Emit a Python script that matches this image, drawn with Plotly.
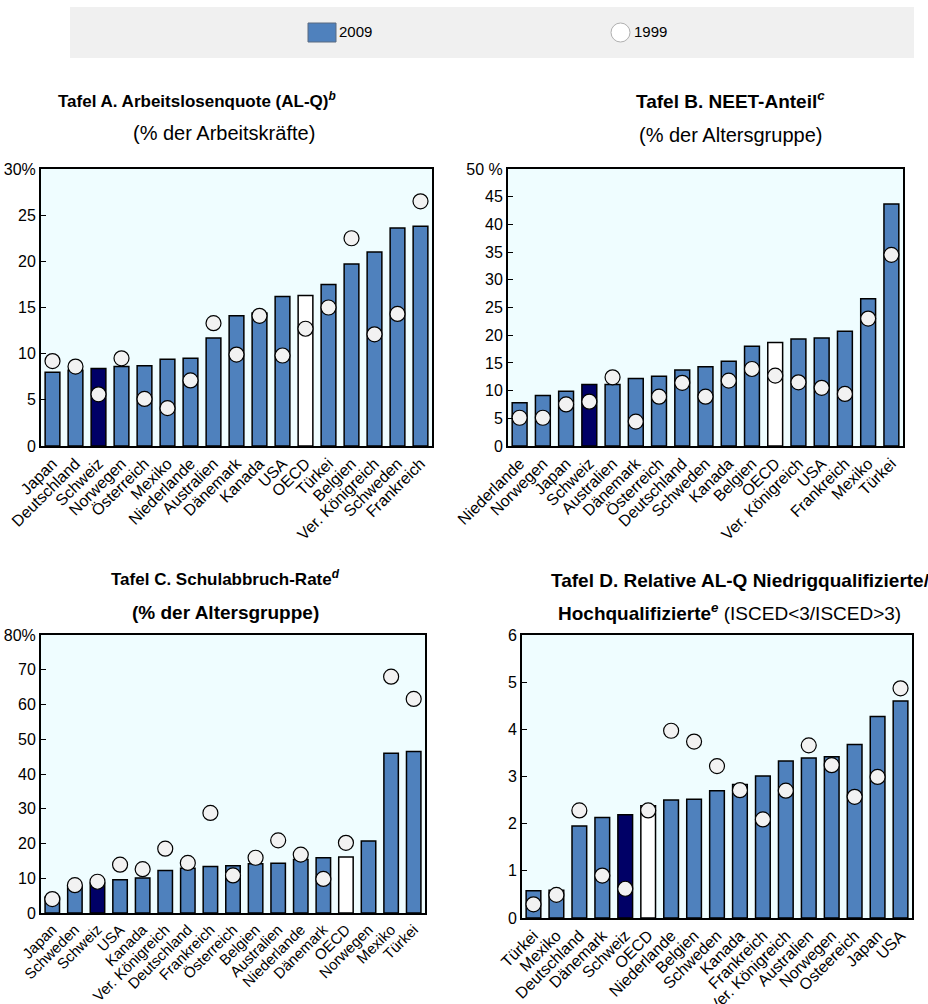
import plotly.graph_objects as go

# Tafel A. Arbeitslosenquote
a_countries = ['Japan', 'Deutschland', 'Schweiz', 'Norwegen', 'Österreich', 'Mexiko', 'Niederlande',
               'Australien', 'Dänemark', 'Kanada', 'USA', 'OECD', 'Türkei', 'Belgien',
               'Ver. Königreich', 'Schweden', 'Frankreich']
a_2009 = [8.0, 8.2, 8.4, 8.6, 8.7, 9.4, 9.5, 11.7, 14.1, 14.4, 16.2, 16.3, 17.5, 19.7, 21.0, 23.6, 23.8]
a_1999 = [9.2, 8.6, 5.6, 9.5, 5.1, 4.1, 7.1, 13.3, 9.9, 14.1, 9.8, 12.7, 15.0, 22.5, 12.1, 14.3, 26.5]

# Tafel B. NEET-Anteil
b_countries = ['Niederlande', 'Norwegen', 'Japan', 'Schweiz', 'Australien', 'Dänemark', 'Österreich',
               'Deutschland', 'Schweden', 'Kanada', 'Belgien', 'OECD', 'Ver. Königreich', 'USA',
               'Frankreich', 'Mexiko', 'Türkei']
b_2009 = [7.8, 9.1, 9.9, 11.1, 11.1, 12.2, 12.6, 13.7, 14.3, 15.3, 18.0, 18.7, 19.3, 19.5, 20.7, 26.6, 43.7]
b_1999 = [5.1, 5.1, 7.5, 8.0, 12.4, 4.4, 8.9, 11.4, 8.9, 11.8, 13.9, 12.7, 11.5, 10.5, 9.4, 23.0, 34.5]

# Tafel C. Schulabbruch-Rate
c_countries = ['Japan', 'Schweden', 'Schweiz', 'USA', 'Kanada', 'Ver. Königreich', 'Deutschland',
               'Frankreich', 'Österreich', 'Belgien', 'Australien', 'Niederlande', 'Dänemark', 'OECD',
               'Norwegen', 'Mexiko', 'Türkei']
c_2009 = [4.5, 7.7, 8.6, 9.6, 10.1, 12.2, 12.9, 13.4, 13.6, 14.2, 14.3, 15.4, 15.9, 16.1, 20.7, 46.0, 46.5]
c_1999 = [4.0, 8.0, 9.0, 13.9, 12.6, 18.5, 14.4, 28.8, 10.8, 15.9, 20.9, 16.8, 9.8, 20.2, None, 68.0, 61.6]

# Tafel D. Relative AL-Q Niedrig-/Hochqualifizierte
d_countries = ['Türkei', 'Mexiko', 'Deutschland', 'Dänemark', 'Schweiz', 'OECD', 'Niederlande',
               'Belgien', 'Schweden', 'Kanada', 'Frankreich', 'Ver. Königreich', 'Australien',
               'Norwegen', 'Osteereich', 'Japan', 'USA']
d_2009 = [0.58, 0.59, 1.95, 2.13, 2.19, 2.38, 2.50, 2.52, 2.70, 2.83, 3.01, 3.33, 3.39, 3.42, 3.68, 4.27, 4.60]
d_1999 = [0.29, 0.49, 2.28, 0.90, 0.62, 2.28, 3.97, 3.74, 3.22, 2.71, 2.09, 2.70, 3.66, 3.24, 2.57, 2.99, 4.87]

BLUE = '#4f81bd'
NAVY = '#000066'
FONT = 'Liberation Sans, Arial, sans-serif'

W, H = 928, 1004


def px_x(p):
    return p / W


def px_y(p):
    return 1 - p / H


def bar_colors(countries):
    cols = []
    for c in countries:
        if c == 'Schweiz':
            cols.append(NAVY)
        elif c == 'OECD':
            cols.append('white')
        else:
            cols.append(BLUE)
    return cols


# countries, 2009, 1999, axis suffix, x px span, y px span, y max, tick step, % suffix, label size
panels = [
    (a_countries, a_2009, a_1999, '', (41, 432), (169, 446), 30, 5, '%', 16),
    (b_countries, b_2009, b_1999, '2', (508, 903), (169, 446), 50, 5, ' %', 16),
    (c_countries, c_2009, c_1999, '3', (41, 425), (635, 913), 80, 10, '%', 15),
    (d_countries, d_2009, d_1999, '4', (522, 912), (635, 918), 6, 1, '', 16),
]

fig = go.Figure()
layout = {}
for countries, v09, v99, n, xr, yr, ymax, step, pct, lsize in panels:
    fig.add_trace(go.Bar(
        x=countries, y=v09, xaxis='x' + n, yaxis='y' + n, width=0.64,
        marker=dict(color=bar_colors(countries), line=dict(color='black', width=1.5)),
        showlegend=False,
    ))
    fig.add_trace(go.Scatter(
        x=countries, y=v99, xaxis='x' + n, yaxis='y' + n, mode='markers',
        marker=dict(size=15, color='#f2f2f2', line=dict(color='black', width=1.2)),
        showlegend=False,
    ))
    tickvals = list(range(0, ymax + 1, step))
    ticktext = [str(v) for v in tickvals]
    ticktext[-1] = ticktext[-1] + pct
    layout['xaxis' + n] = dict(
        domain=[px_x(xr[0]), px_x(xr[1])], anchor='y' + n, range=[-0.5, 16.5],
        tickangle=-45, showline=True, mirror=True, linecolor='black', linewidth=2,
        ticks='', showgrid=False, automargin=False,
        tickfont=dict(size=lsize, color='black', family=FONT),
    )
    layout['yaxis' + n] = dict(
        domain=[px_y(yr[1]), px_y(yr[0])], anchor='x' + n, range=[0, ymax],
        tickvals=tickvals, ticktext=ticktext, showline=True, mirror=True,
        linecolor='black', linewidth=2, ticks='inside', ticklen=5, tickcolor='black',
        showgrid=False, zeroline=False, automargin=False,
        tickfont=dict(size=16, color='black', family=FONT),
    )

titles = [
    (197, 100, '<b>Tafel A. Arbeitslosenquote (AL-Q)<i><sup>b</sup></i></b>', 17),
    (224, 133, '(% der Arbeitskräfte)', 20),
    (730, 100, '<b>Tafel B. NEET-Anteil<i><sup>c</sup></i></b>', 19),
    (730, 135, '(% der Altersgruppe)', 20),
    (225, 578, '<b>Tafel C. Schulabbruch-Rate<i><sup>d</sup></i></b>', 17),
    (225, 612, '<b>(% der Altersgruppe)</b>', 19),
    (740, 580, '<b>Tafel D. Relative AL-Q Niedrigqualifizierte/</b>', 19),
    (729, 612, '<b>Hochqualifizierte<i><sup>e</sup></i></b> (ISCED&lt;3/ISCED&gt;3)', 19),
]
annotations = []
for x, y, t, size in titles:
    annotations.append(dict(x=px_x(x), y=px_y(y), xref='paper', yref='paper', text=t,
                            showarrow=False, xanchor='center', yanchor='middle',
                            font=dict(size=size, color='black', family=FONT)))

# legend
for x, label in [(337, '2009'), (632, '1999')]:
    annotations.append(dict(x=px_x(x), y=px_y(32), xref='paper', yref='paper', text=label,
                            showarrow=False, xanchor='left', yanchor='middle',
                            font=dict(size=15, color='black', family=FONT)))
shapes = [
    dict(type='rect', xref='paper', yref='paper', x0=px_x(70), x1=px_x(914), y0=px_y(58), y1=px_y(7),
         fillcolor='#f0f0f0', line=dict(width=0), layer='below'),
    dict(type='rect', xref='paper', yref='paper', x0=px_x(308), x1=px_x(336), y0=px_y(42), y1=px_y(23),
         fillcolor=BLUE, line=dict(color='#5a6a80', width=1)),
    dict(type='circle', xref='paper', yref='paper', x0=px_x(611), x1=px_x(630), y0=px_y(42), y1=px_y(23),
         fillcolor='white', line=dict(color='#b0b0b0', width=1)),
]

fig.update_layout(
    width=W, height=H, margin=dict(l=0, r=0, t=0, b=0),
    paper_bgcolor='white', plot_bgcolor='#effdff',
    font=dict(family=FONT, color='black'),
    annotations=annotations, shapes=shapes, bargap=0.36,
    **layout,
)
fig.write_html('out.html', config={'displayModeBar': False},
               post_script="document.body.style.margin = '0';")
